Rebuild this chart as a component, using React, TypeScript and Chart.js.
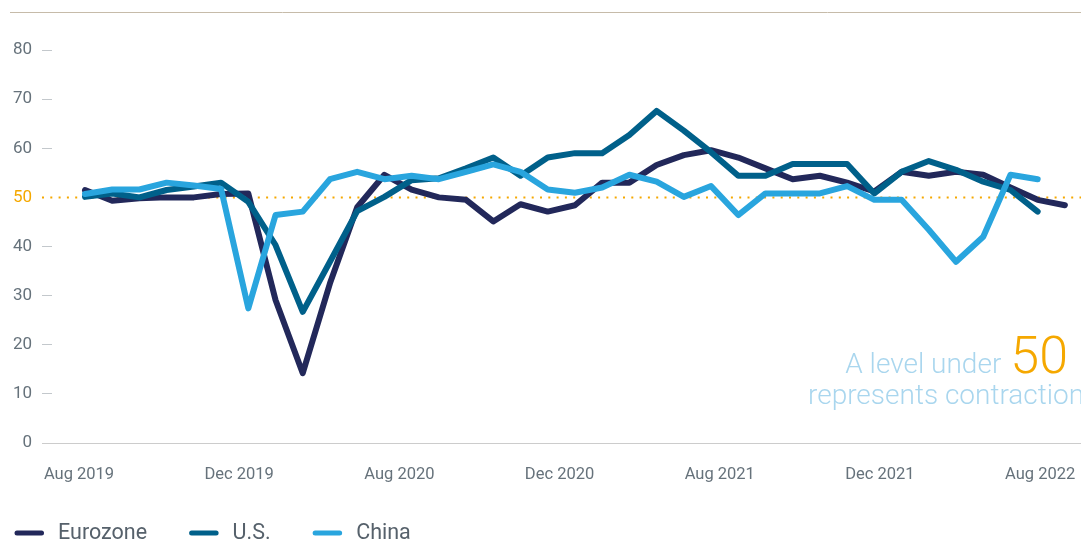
import React, { useEffect, useRef } from "react";
import { Chart, registerables } from "chart.js";

Chart.register(...registerables);

// ---- Data ----
const xTickLabels = ["Aug 2019", "Dec 2019", "Aug 2020", "Dec 2020", "Aug 2021", "Dec 2021", "Aug 2022"];
const yTickValues = [0, 10, 20, 30, 40, 50, 60, 70, 80];
const seriesNames = ["Eurozone", "U.S.", "China"];

const eurozone = [
  51.5, 49.3, 49.8, 50.0, 50.0, 50.7, 50.8, 29.1, 14.2, 32.5,
  48.0, 54.6, 51.6, 50.0, 49.5, 45.1, 48.6, 47.1, 48.4, 53.0,
  53.0, 56.6, 58.6, 59.6, 58.1, 55.9, 53.7, 54.4, 53.0, 51.2,
  55.2, 54.4, 55.2, 54.6, 52.0, 49.5, 48.4,
];
const us = [
  50.1, 50.8, 50.0, 51.5, 52.2, 53.0, 49.1, 40.3, 26.7, 36.9,
  47.2, 50.1, 53.5, 53.9, 55.9, 58.1, 54.4, 58.1, 59.0, 59.0,
  62.7, 67.6, 63.6, 59.2, 54.4, 54.4, 56.8, 56.8, 56.8, 50.8,
  55.2, 57.4, 55.6, 53.2, 51.5, 47.1,
];
const china = [
  50.7, 51.6, 51.6, 53.0, 52.4, 51.7, 27.4, 46.4, 47.1, 53.7,
  55.2, 53.7, 54.4, 53.7, 55.2, 56.7, 55.2, 51.6, 50.95, 52.0,
  54.6, 53.2, 50.1, 52.3, 46.4, 50.8, 50.8, 50.8, 52.3, 49.5,
  49.5, 43.4, 36.9, 42.0, 54.6, 53.7,
];
const thresholdValue = 50;

// ---- Styles ----
const COLORS = ["#22285a", "#00608a", "#29a5de"];
const ORANGE = "#f5a800";
const LABEL_GREY = "#66727b";
const FONT = "Roboto, 'Liberation Sans', Arial, sans-serif";
const CANVAS_W = 1100;
const CANVAS_H = 543;
const X_MIN = -1.212;
const X_MAX = 37.29;
const X_TICK_START = -0.22;
const X_TICK_STEP = 5.885;

const toPoints = (arr: number[]) => arr.map((v, i) => ({ x: i, y: v }));

const thresholdPlugin = {
  id: "threshold",
  beforeDatasetsDraw(chart: any) {
    const { ctx, chartArea, scales } = chart;
    const y = Math.round(scales.y.getPixelForValue(thresholdValue)) + 0.5;
    ctx.save();
    ctx.strokeStyle = ORANGE;
    ctx.lineWidth = 2;
    ctx.setLineDash([2, 6.3]);
    ctx.beginPath();
    ctx.moveTo(chartArea.left - 10, y);
    ctx.lineTo(chartArea.right, y);
    ctx.stroke();
    ctx.restore();
  },
};

const decorPlugin = {
  id: "decor",
  afterDraw(chart: any) {
    const { ctx } = chart;
    ctx.save();
    // top rule
    ctx.strokeStyle = "#c6bba9";
    ctx.lineWidth = 1;
    ctx.beginPath();
    ctx.moveTo(10, 12.5);
    ctx.lineTo(chart.width, 12.5);
    ctx.stroke();

    // legend
    const ly = 533;
    let x = 14.5;
    ctx.font = `21.5px ${FONT}`;
    ctx.textBaseline = "middle";
    ctx.textAlign = "left";
    chart.data.datasets.forEach((ds: any) => {
      ctx.strokeStyle = ds.borderColor;
      ctx.lineWidth = 5;
      ctx.lineCap = "round";
      ctx.beginPath();
      ctx.moveTo(x + 2.5, ly);
      ctx.lineTo(x + 27, ly);
      ctx.stroke();
      const tx = x + 43.5;
      ctx.fillStyle = "#56616b";
      ctx.fillText(ds.label, tx, ly + 1);
      x = tx + ctx.measureText(ds.label).width + 42;
    });

    // annotation
    ctx.textBaseline = "alphabetic";
    ctx.font = `300 52px ${FONT}`;
    const w50 = ctx.measureText(String(thresholdValue)).width;
    ctx.fillStyle = ORANGE;
    ctx.textAlign = "right";
    ctx.fillText(String(thresholdValue), 1068, 373);
    ctx.font = `300 28px ${FONT}`;
    ctx.fillStyle = "#a9d6ee";
    ctx.fillText("A level under", 1068 - w50 - 9, 373);
    ctx.textAlign = "left";
    ctx.fillText("represents contraction", 808, 404);
    ctx.restore();
  },
};

export default function App() {
  const canvasRef = useRef<HTMLCanvasElement | null>(null);

  useEffect(() => {
    document.body.style.margin = "0";
    const canvas = canvasRef.current;
    if (!canvas) return;
    const chart = new Chart(canvas, {
      type: "line",
      data: {
        datasets: [eurozone, us, china].map((arr, i) => ({
          label: seriesNames[i],
          data: toPoints(arr),
          borderColor: COLORS[i],
          backgroundColor: COLORS[i],
          borderWidth: 6,
          pointRadius: 0,
          tension: 0,
          borderCapStyle: "round",
          borderJoinStyle: "round",
          fill: false,
          order: 3 - i,
        })),
      },
      options: {
        animation: false,
        responsive: false,
        layout: { padding: { top: 50, bottom: 60, left: 0, right: 0 } },
        plugins: { legend: { display: false }, tooltip: { enabled: false } },
        scales: {
          x: {
            type: "linear",
            min: X_MIN,
            max: X_MAX,
            border: { display: false },
            grid: { display: false, drawTicks: false },
            afterBuildTicks: (s: any) => {
              s.ticks = xTickLabels.map((_, k) => ({ value: X_TICK_START + k * X_TICK_STEP }));
            },
            afterFit: (s: any) => {
              s.height = 40;
            },
            ticks: {
              autoSkip: false,
              maxRotation: 0,
              minRotation: 0,
              padding: 22,
              color: LABEL_GREY,
              font: { family: FONT, size: 16.5 },
              callback: (_v: any, i: number) => xTickLabels[i],
            },
          },
          y: {
            min: 0,
            max: 80,
            border: { display: false },
            afterBuildTicks: (s: any) => {
              s.ticks = yTickValues.map((v) => ({ value: v }));
            },
            afterFit: (s: any) => {
              s.width = 52;
            },
            grid: {
              drawTicks: true,
              tickLength: 10,
              lineWidth: 1,
              color: (ctx: any) => (ctx.tick && ctx.tick.value === 0 ? "#cccccc" : "rgba(0,0,0,0)"),
              tickColor: (ctx: any) =>
                ctx.tick && ctx.tick.value === thresholdValue
                  ? "rgba(0,0,0,0)"
                  : ctx.tick && ctx.tick.value === 0
                  ? "#cccccc"
                  : "#c3c8cc",
            },
            ticks: {
              padding: 10,
              color: (ctx: any) => (ctx.tick && ctx.tick.value === thresholdValue ? ORANGE : LABEL_GREY),
              font: { family: FONT, size: 17 },
            },
          },
        },
      },
      plugins: [thresholdPlugin, decorPlugin],
    } as any);
    return () => chart.destroy();
  }, []);

  return (
    <div style={{ position: "relative", width: 1081, height: CANVAS_H, overflow: "hidden", background: "#fff" }}>
      <canvas
        ref={canvasRef}
        width={CANVAS_W}
        height={CANVAS_H}
        style={{ display: "block", width: CANVAS_W, height: CANVAS_H }}
      />
    </div>
  );
}
